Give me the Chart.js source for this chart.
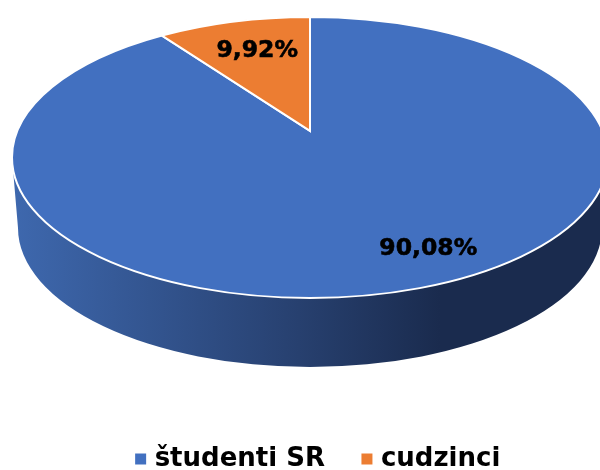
<!DOCTYPE html>
<html>
<head>
<meta charset="utf-8">
<title>študenti SR / cudzinci</title>
<script src="https://cdn.jsdelivr.net/npm/chart.js@4/dist/chart.umd.min.js"></script>
<style>
html, body { margin: 0; padding: 0; background: #fff; overflow: hidden; width: 600px; height: 470px; }
canvas { display: block; }
</style>
</head>
<body>
<canvas id="pie_canvas" width="640" height="482"></canvas>
<script>
const categories = ['študenti SR', 'cudzinci'];
const shares = [90.08, 9.92];
const slice_colors = ['#4270c0', '#ec7d32'];

// top face and lower rim of the tilted disc, in canvas pixels
const top_face = {x: 310, y: 157.5, rx: 298, ry: 140.5};
const lower_rim = {x: 310, y: 228, rx: 292, ry: 139};
// how far the pie centre sits above the ellipse centre (perspective)
const tilt = -0.189;

// circle point (angle in chart.js terms, r 0..1) -> point on the perspective ellipse
function project(angle, r) {
    const u = Math.cos(angle) * r;
    const v = Math.sin(angle) * r;
    const d = 1 + tilt * v;
    return {
        x: u * Math.sqrt(1 - tilt * tilt) / d,
        y: (v + tilt) / d
    };
}

function draw_wall(ctx) {
    const grad = ctx.createLinearGradient(13, 0, 440, 0);
    grad.addColorStop(0, '#3e68ae');
    grad.addColorStop(0.67, '#27406f');
    grad.addColorStop(1, '#1a2b4e');
    ctx.fillStyle = grad;
    ctx.beginPath();
    ctx.ellipse(top_face.x, top_face.y, top_face.rx, top_face.ry, 0, Math.PI, 0, true);
    ctx.ellipse(lower_rim.x, lower_rim.y, lower_rim.rx, lower_rim.ry, 0, 0, Math.PI, false);
    ctx.closePath();
    ctx.fill();
}

function draw_slice(ctx, arc, color) {
    const a = project(arc.startAngle, 1);
    const b = project(arc.endAngle, 1);
    const c = project(0, 0);
    ctx.beginPath();
    ctx.moveTo(top_face.x + c.x * top_face.rx, top_face.y + c.y * top_face.ry);
    ctx.ellipse(top_face.x, top_face.y, top_face.rx, top_face.ry, 0, Math.atan2(a.y, a.x), Math.atan2(b.y, b.x), false);
    ctx.closePath();
    ctx.fillStyle = color;
    ctx.fill();
    ctx.lineWidth = 2;
    ctx.strokeStyle = '#ffffff';
    ctx.stroke();
}

const pie_3d = {
    id: 'pie_3d',
    beforeDatasetDraw(chart, args) {
        const ctx = chart.ctx;
        const arcs = chart.getDatasetMeta(args.index).data;
        ctx.save();
        draw_wall(ctx);
        for (let i = 0; i < arcs.length; i++) {
            draw_slice(ctx, arcs[i], slice_colors[i]);
        }
        ctx.restore();
        // already drawn, skip the flat arcs
        return false;
    },
    afterDatasetsDraw(chart) {
        const ctx = chart.ctx;
        const arcs = chart.getDatasetMeta(0).data;
        const label_r = [0.787, 0.70];
        const label_shift = [36, 3];
        ctx.save();
        ctx.font = 'bold 23.5px "DejaVu Sans"';
        ctx.fillStyle = '#000000';
        ctx.strokeStyle = '#000000';
        ctx.lineWidth = 0.6;
        ctx.textAlign = 'center';
        ctx.textBaseline = 'middle';
        for (let i = 0; i < arcs.length; i++) {
            const mid = (arcs[i].startAngle + arcs[i].endAngle) / 2;
            const p = project(mid, label_r[i]);
            const text = shares[i].toFixed(2).replace('.', ',') + '%';
            const x = top_face.x + p.x * top_face.rx + label_shift[i];
            const y = top_face.y + p.y * top_face.ry;
            ctx.fillText(text, x, y);
            ctx.strokeText(text, x, y);
        }
        ctx.restore();
    }
};

new Chart(document.getElementById('pie_canvas'), {
    type: 'pie',
    data: {
        labels: categories,
        datasets: [{data: shares, backgroundColor: slice_colors}]
    },
    options: {
        responsive: false,
        animation: false,
        layout: {padding: 0},
        plugins: {
            tooltip: {enabled: false},
            legend: {
                position: 'bottom',
                labels: {
                    color: '#000000',
                    font: {family: '"DejaVu Sans"', size: 26, weight: 'bold'},
                    boxWidth: 2,
                    boxHeight: 2,
                    padding: 41,
                    // thick stroke makes the small square legend key, keeps the text close to it
                    generateLabels(chart) {
                        return categories.map((name, i) => ({
                            text: name,
                            fillStyle: slice_colors[i],
                            strokeStyle: slice_colors[i],
                            lineWidth: 9,
                            index: i
                        }));
                    }
                }
            }
        }
    },
    plugins: [pie_3d]
});
</script>
</body>
</html>
